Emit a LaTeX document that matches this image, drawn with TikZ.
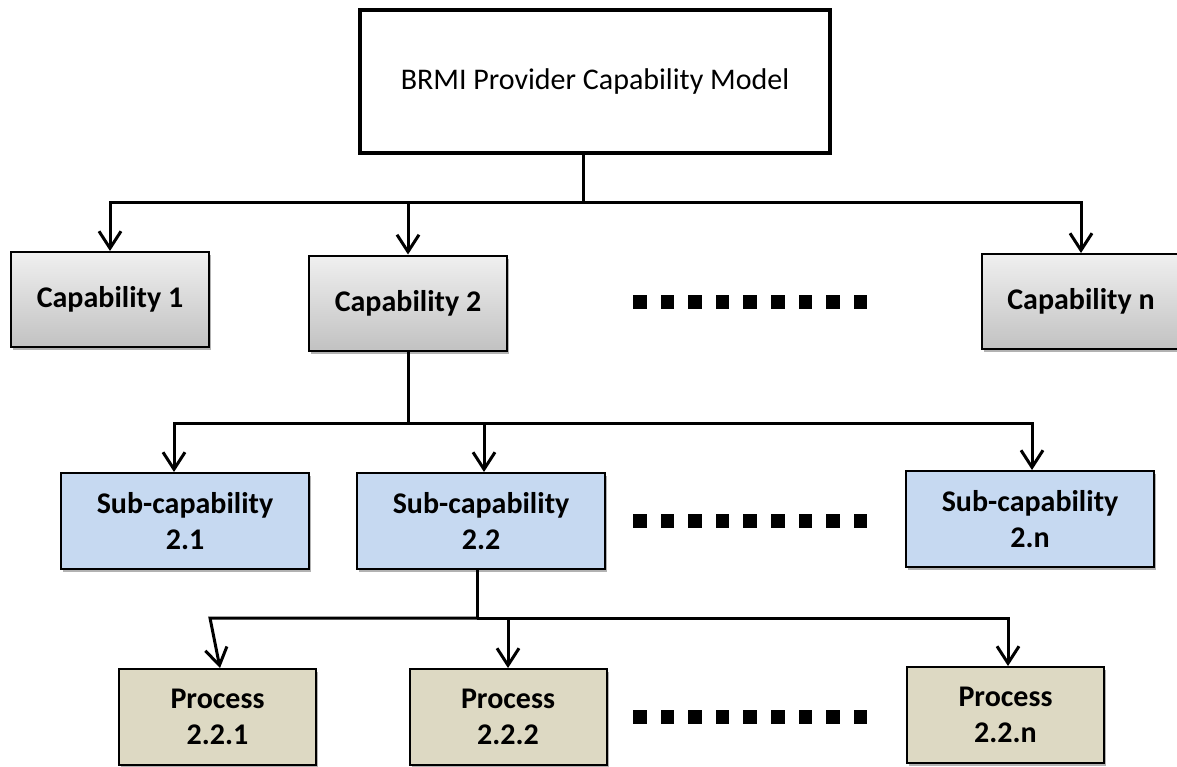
\documentclass[tikz,border=0pt]{standalone}
\usepackage{fontspec}
\setmainfont{Carlito}
\usepackage{tikz}
\usetikzlibrary{positioning, arrows.meta, shadows}

\definecolor{subblue}{HTML}{C6D9F1}
\definecolor{proctan}{HTML}{DDD9C3}

\begin{document}
\begin{tikzpicture}[x=1pt, y=-1pt,
        box/.style={draw, line width=2pt, inner sep=0pt, align=center,
            font=\fontsize{30}{36.6}\selectfont\bfseries,
            drop shadow={shadow xshift=2pt, shadow yshift=-3pt, opacity=0.3, fill=black}},
        capbox/.style={box, top color=gray!12, bottom color=gray!48, minimum width=198pt, minimum height=95pt},
        subbox/.style={box, fill=subblue, minimum width=248pt, minimum height=96pt},
        procbox/.style={box, fill=proctan, minimum width=197pt, minimum height=96pt},
        conn/.style={line width=3pt},
        connarrow/.style={conn, -{Straight Barb[length=17pt, width=22pt]}}]
            \useasboundingbox (0,0) rectangle (1177,766);

            \node [draw, line width=4pt, minimum width=470pt, minimum height=143pt, inner sep=0pt,
                font=\fontsize{30}{36.6}\selectfont] (model) at (595,81.5) {BRMI Provider Capability Model};

            \node [capbox] (cap1) at (110,299.5) {Capability 1};
            \node [capbox] (cap2) at (408,303)   {Capability 2};
            \node [capbox] (capn) at (1081,301.5) {Capability n};

            \node [subbox] (sub1) at (185,521) {Sub-capability\\2.1};
            \node [subbox] (sub2) at (481,521) {Sub-capability\\2.2};
            \node [subbox] (subn) at (1030,519) {Sub-capability\\2.n};

            \node [procbox] (proc1) at (217.5,717) {Process\\2.2.1};
            \node [procbox] (proc2) at (508,717)   {Process\\2.2.2};
            \node [procbox] (procn) at (1005.5,715) {Process\\2.2.n};

            % model -> capabilities
            \coordinate (bus1) at (583,202);
            \draw [conn] (model.south -| bus1) -- (bus1);
            \foreach \c in {cap1, cap2, capn}
                \draw [connarrow] (bus1) -| (\c.north);

            % capability 2 -> sub-capabilities
            \coordinate (bus2) at (408,423);
            \draw [conn] (cap2.south) -- (bus2);
            \draw [connarrow] (bus2) -| ([xshift=-11pt]sub1.north);
            \draw [connarrow] (bus2) -| ([xshift=3pt]sub2.north);
            \draw [connarrow] (bus2) -| ([xshift=2pt]subn.north);

            % sub-capability 2.2 -> processes
            \coordinate (bus3) at (477,618);
            \coordinate (turn1) at (210,618);
            \draw [conn] (sub2.south -| bus3) -- (bus3);
            \draw [connarrow] (bus3) -- (turn1) -- ([xshift=2.5pt]proc1.north);
            \draw [connarrow] (bus3) -| (proc2.north);
            \draw [connarrow] (bus3) -| ([xshift=2.5pt]procn.north);

            % dotted gaps
            \foreach \y in {302, 521, 717}
                \foreach \i in {0,...,8}
                    \fill (633+\i*27.6, \y-6.75) rectangle ++(13.5,13.5);
        \end{tikzpicture}
\end{document}
